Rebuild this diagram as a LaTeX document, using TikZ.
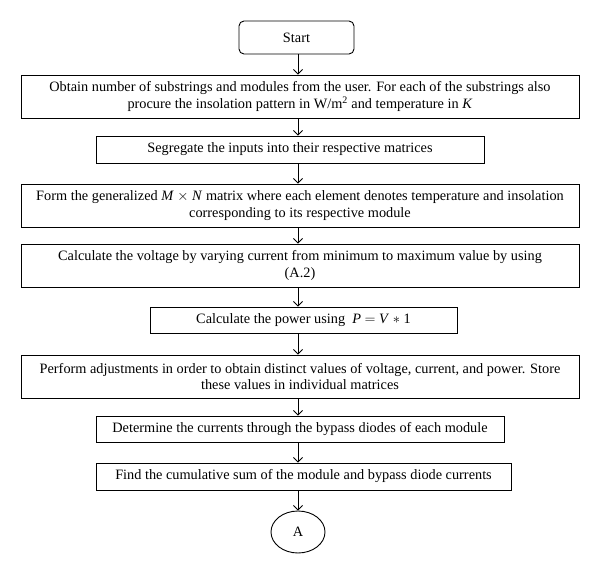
\documentclass[tikz,border=0pt]{standalone}
\usepackage{fontspec}
\setmainfont{Liberation Serif}
\usetikzlibrary{arrows.meta,shapes.geometric}
\tikzset{
  box/.style={draw, line width=0.9pt, inner sep=0pt, align=center, font=\fontsize{14.3}{16.5}\selectfont},
  startbox/.style={box, rounded corners=5pt},
  endell/.style={draw, ellipse, line width=0.9pt, inner sep=0pt, font=\fontsize{14.3}{16.5}\selectfont},
  flow/.style={line width=0.9pt, -{Straight Barb[length=4.5pt,width=9pt,line width=0.9pt]}}
}
\begin{document}
\begin{tikzpicture}[x=1pt,y=1pt]
\useasboundingbox (0,0) rectangle (600,-573);
\fill[white] (0,0) rectangle (600,-573);
\coordinate (axis) at (298,0);
\node[startbox, minimum width=115pt, minimum height=33pt] (start) at (296.5,-37.5) {Start};
\node[box, minimum width=558pt, minimum height=43pt] (b1) at (300,-96.5)
  {Obtain number of substrings and modules from the user. For each of the substrings also\\
   procure the insolation pattern in W/m\textsuperscript{2} and temperature in \textit{K}};
\node[box, minimum width=388pt, minimum height=27pt] (b2) at (290,-149.5)
  {Segregate the inputs into their respective matrices};
\node[box, minimum width=558pt, minimum height=43pt] (b3) at (300,-205.5)
  {Form the generalized \textit{M} $\times$ \textit{N} matrix where each element denotes temperature and insolation\\
   corresponding to its respective module};
\node[box, minimum width=558pt, minimum height=43pt] (b4) at (300,-265.5)
  {Calculate the voltage by varying current from minimum to maximum value by using\\ (A.2)};
\node[box, minimum width=307pt, minimum height=26pt] (b5) at (303.5,-320)
  {Calculate the power using \ \textit{P} $=$ \textit{V} $\ast$ 1};
\node[box, minimum width=558pt, minimum height=43pt] (b6) at (300,-376.5)
  {Perform adjustments in order to obtain distinct values of voltage, current, and power. Store\\
   these values in individual matrices};
\node[box, minimum width=408pt, minimum height=26pt] (b7) at (300,-429)
  {Determine the currents through the bypass diodes of each module};
\node[box, minimum width=415pt, minimum height=27pt] (b8) at (303.5,-476.5)
  {Find the cumulative sum of the module and bypass diode currents};
\node[endell, minimum width=54pt, minimum height=42pt] (A) at (298,-532) {A};
\draw[flow] (start.south -| axis) -- (b1.north -| axis);
\draw[flow] (b1.south -| axis) -- (b2.north -| axis);
\draw[flow] (b2.south -| axis) -- (b3.north -| axis);
\draw[flow] (b3.south -| axis) -- (b4.north -| axis);
\draw[flow] (b4.south -| axis) -- (b5.north -| axis);
\draw[flow] (b5.south -| axis) -- (b6.north -| axis);
\draw[flow] (b6.south -| axis) -- (b7.north -| axis);
\draw[flow] (b7.south -| axis) -- (b8.north -| axis);
\draw[flow] (b8.south -| axis) -- (A.north);
\end{tikzpicture}
\end{document}
